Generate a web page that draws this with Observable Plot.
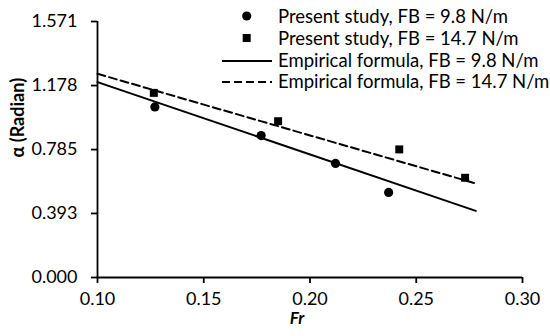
<!DOCTYPE html>
<html><head><meta charset="utf-8">
<script src="https://cdn.jsdelivr.net/npm/d3@7"></script>
<script src="https://cdn.jsdelivr.net/npm/@observablehq/plot@0.6"></script>
<style>
body{margin:0;background:#fff}
#chart{position:relative;width:550px;height:336px}
#legend{position:absolute;left:0;top:0;pointer-events:none}
</style>
</head><body><div id="chart"></div>
<script>
// Present study data
const frStudy98 = [0.127, 0.177, 0.212, 0.237];
const alphaStudy98 = [1.047, 0.871, 0.700, 0.522];
const frStudy147 = [0.1265, 0.185, 0.242, 0.273];
const alphaStudy147 = [1.133, 0.959, 0.786, 0.612];
// Empirical formula lines
const frEmp = [0.10, 0.278];
const alphaEmp98 = [1.199, 0.409];
const alphaEmp147 = [1.250, 0.577];
// Ticks
const xTicks = [0.10, 0.15, 0.20, 0.25, 0.30];
const yTicks = [0.000, 0.393, 0.785, 1.178, 1.571];
const legendLabels = [
  "Present study, FB = 9.8 N/m",
  "Present study, FB = 14.7 N/m",
  "Empirical formula, FB = 9.8 N/m",
  "Empirical formula, FB = 14.7 N/m"
];

const s98 = frStudy98.map((x, i) => ({x, y: alphaStudy98[i]}));
const s147 = frStudy147.map((x, i) => ({x, y: alphaStudy147[i]}));
const e98 = frEmp.map((x, i) => ({x, y: alphaEmp98[i]}));
const e147 = frEmp.map((x, i) => ({x, y: alphaEmp147[i]}));
const fmtX = d3.format(".2f");

const plot = Plot.plot({
  width: 550,
  height: 336,
  marginLeft: 97,
  marginRight: 28,
  marginTop: 21,
  marginBottom: 59,
  style: {fontFamily: "Lato", fontSize: "18px", color: "#000", background: "#fff"},
  x: {domain: [0.10, 0.30]},
  y: {domain: [0, 1.571]},
  marks: [
    Plot.axisX({ticks: xTicks, tickSize: 6, strokeWidth: 1.8, text: null, label: null}),
    Plot.text(xTicks, {x: d => d, frameAnchor: "bottom", dy: 27, text: d => fmtX(d), fontSize: 18, fill: "#000"}),
    Plot.axisY({ticks: yTicks, tickFormat: d3.format(".3f"), tickSize: 6, tickPadding: 14, strokeWidth: 1.8, label: null, fontSize: 18}),
    Plot.ruleX([0.10], {stroke: "#000", strokeWidth: 1.8}),
    Plot.ruleY([0], {stroke: "#000", strokeWidth: 1.8}),
    Plot.line(e98, {x: "x", y: "y", stroke: "#000", strokeWidth: 2}),
    Plot.line(e147, {x: "x", y: "y", stroke: "#000", strokeWidth: 2, strokeDasharray: "8,4"}),
    Plot.dot(s98, {x: "x", y: "y", r: 4.6, fill: "#000", symbol: "circle"}),
    Plot.dot(s147, {x: "x", y: "y", r: 4.5, fill: "#000", symbol: "square"}),
    Plot.text(["α (Radian)"], {frameAnchor: "left", dx: -79, dy: 8, rotate: -90, fontWeight: "bold", fontSize: 18, fill: "#000"}),
    Plot.text(["Fr"], {frameAnchor: "bottom", dx: -13, dy: 46.5, fontWeight: "bold", fontStyle: "italic", fontSize: 17, fill: "#000"})
  ]
});
const chart = document.getElementById("chart");
chart.appendChild(plot);

// Legend overlay
const leg = d3.select(chart).append("svg").attr("id", "legend").attr("width", 550).attr("height", 100);
const rowsY = [17, 39, 61, 82];
const g = leg.selectAll("g").data(legendLabels).join("g");
g.append("text").attr("x", 278).attr("y", (d, i) => rowsY[i]).attr("dy", "0.35em")
  .attr("font-family", "Lato").attr("font-size", 18.5).attr("fill", "#000").text(d => d);
leg.append("circle").attr("cx", 246.7).attr("cy", 16).attr("r", 4.6).attr("fill", "#000");
leg.append("rect").attr("x", 242.7).attr("y", 38 - 4).attr("width", 8).attr("height", 8).attr("fill", "#000");
leg.append("line").attr("x1", 222).attr("x2", 272).attr("y1", 61).attr("y2", 61).attr("stroke", "#000").attr("stroke-width", 2);
leg.append("line").attr("x1", 222).attr("x2", 272).attr("y1", 82).attr("y2", 82).attr("stroke", "#000").attr("stroke-width", 2).attr("stroke-dasharray", "8,4");
</script>
</body></html>
